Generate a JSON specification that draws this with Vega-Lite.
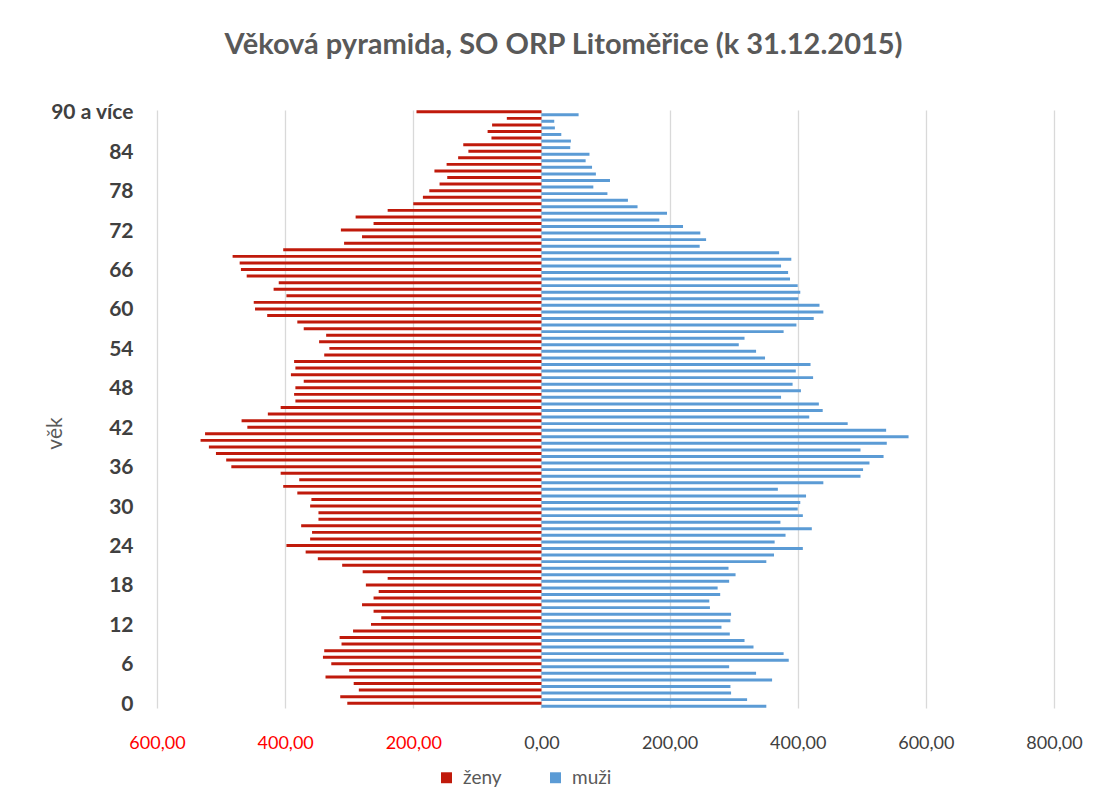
{
  "$schema": "https://vega.github.io/schema/vega-lite/v6.json",
  "autosize": {"type": "none"},
  "padding": {"left": 157, "top": 110, "right": 52, "bottom": 101},
  "width": 897,
  "height": 598,
  "background": "#ffffff",
  "title": {
    "text": "Věková pyramida, SO ORP Litoměřice (k 31.12.2015)",
    "font": "Lato",
    "fontSize": 29,
    "fontWeight": "bold",
    "color": "#595959",
    "anchor": "middle",
    "dx": -42,
    "offset": 42
  },
  "config": {
    "view": {"stroke": null},
    "font": "Lato"
  },
  "data": {
    "values": [
      {"vek":90,"pohlavi":"ženy","pocet":-195},{"vek":90,"pohlavi":"muži","pocet":58},
      {"vek":89,"pohlavi":"ženy","pocet":-54},{"vek":89,"pohlavi":"muži","pocet":20},
      {"vek":88,"pohlavi":"ženy","pocet":-77},{"vek":88,"pohlavi":"muži","pocet":21},
      {"vek":87,"pohlavi":"ženy","pocet":-84},{"vek":87,"pohlavi":"muži","pocet":31},
      {"vek":86,"pohlavi":"ženy","pocet":-78},{"vek":86,"pohlavi":"muži","pocet":46},
      {"vek":85,"pohlavi":"ženy","pocet":-122},{"vek":85,"pohlavi":"muži","pocet":45},
      {"vek":84,"pohlavi":"ženy","pocet":-114},{"vek":84,"pohlavi":"muži","pocet":75},
      {"vek":83,"pohlavi":"ženy","pocet":-130},{"vek":83,"pohlavi":"muži","pocet":69},
      {"vek":82,"pohlavi":"ženy","pocet":-148},{"vek":82,"pohlavi":"muži","pocet":79},
      {"vek":81,"pohlavi":"ženy","pocet":-167},{"vek":81,"pohlavi":"muži","pocet":85},
      {"vek":80,"pohlavi":"ženy","pocet":-147},{"vek":80,"pohlavi":"muži","pocet":107},
      {"vek":79,"pohlavi":"ženy","pocet":-159},{"vek":79,"pohlavi":"muži","pocet":81},
      {"vek":78,"pohlavi":"ženy","pocet":-175},{"vek":78,"pohlavi":"muži","pocet":103},
      {"vek":77,"pohlavi":"ženy","pocet":-185},{"vek":77,"pohlavi":"muži","pocet":135},
      {"vek":76,"pohlavi":"ženy","pocet":-200},{"vek":76,"pohlavi":"muži","pocet":150},
      {"vek":75,"pohlavi":"ženy","pocet":-240},{"vek":75,"pohlavi":"muži","pocet":196},
      {"vek":74,"pohlavi":"ženy","pocet":-290},{"vek":74,"pohlavi":"muži","pocet":184},
      {"vek":73,"pohlavi":"ženy","pocet":-262},{"vek":73,"pohlavi":"muži","pocet":221},
      {"vek":72,"pohlavi":"ženy","pocet":-313},{"vek":72,"pohlavi":"muži","pocet":248},
      {"vek":71,"pohlavi":"ženy","pocet":-280},{"vek":71,"pohlavi":"muži","pocet":257},
      {"vek":70,"pohlavi":"ženy","pocet":-308},{"vek":70,"pohlavi":"muži","pocet":247},
      {"vek":69,"pohlavi":"ženy","pocet":-403},{"vek":69,"pohlavi":"muži","pocet":371},
      {"vek":68,"pohlavi":"ženy","pocet":-482},{"vek":68,"pohlavi":"muži","pocet":390},
      {"vek":67,"pohlavi":"ženy","pocet":-471},{"vek":67,"pohlavi":"muži","pocet":374},
      {"vek":66,"pohlavi":"ženy","pocet":-469},{"vek":66,"pohlavi":"muži","pocet":385},
      {"vek":65,"pohlavi":"ženy","pocet":-460},{"vek":65,"pohlavi":"muži","pocet":388},
      {"vek":64,"pohlavi":"ženy","pocet":-410},{"vek":64,"pohlavi":"muži","pocet":400},
      {"vek":63,"pohlavi":"ženy","pocet":-418},{"vek":63,"pohlavi":"muži","pocet":404},
      {"vek":62,"pohlavi":"ženy","pocet":-398},{"vek":62,"pohlavi":"muži","pocet":401},
      {"vek":61,"pohlavi":"ženy","pocet":-449},{"vek":61,"pohlavi":"muži","pocet":434},
      {"vek":60,"pohlavi":"ženy","pocet":-447},{"vek":60,"pohlavi":"muži","pocet":440},
      {"vek":59,"pohlavi":"ženy","pocet":-428},{"vek":59,"pohlavi":"muži","pocet":425},
      {"vek":58,"pohlavi":"ženy","pocet":-381},{"vek":58,"pohlavi":"muži","pocet":398},
      {"vek":57,"pohlavi":"ženy","pocet":-371},{"vek":57,"pohlavi":"muži","pocet":378},
      {"vek":56,"pohlavi":"ženy","pocet":-336},{"vek":56,"pohlavi":"muži","pocet":317},
      {"vek":55,"pohlavi":"ženy","pocet":-347},{"vek":55,"pohlavi":"muži","pocet":308},
      {"vek":54,"pohlavi":"ženy","pocet":-331},{"vek":54,"pohlavi":"muži","pocet":335},
      {"vek":53,"pohlavi":"ženy","pocet":-339},{"vek":53,"pohlavi":"muži","pocet":349},
      {"vek":52,"pohlavi":"ženy","pocet":-386},{"vek":52,"pohlavi":"muži","pocet":420},
      {"vek":51,"pohlavi":"ženy","pocet":-384},{"vek":51,"pohlavi":"muži","pocet":397},
      {"vek":50,"pohlavi":"ženy","pocet":-391},{"vek":50,"pohlavi":"muži","pocet":424},
      {"vek":49,"pohlavi":"ženy","pocet":-371},{"vek":49,"pohlavi":"muži","pocet":392},
      {"vek":48,"pohlavi":"ženy","pocet":-384},{"vek":48,"pohlavi":"muži","pocet":405},
      {"vek":47,"pohlavi":"ženy","pocet":-386},{"vek":47,"pohlavi":"muži","pocet":374},
      {"vek":46,"pohlavi":"ženy","pocet":-384},{"vek":46,"pohlavi":"muži","pocet":433},
      {"vek":45,"pohlavi":"ženy","pocet":-407},{"vek":45,"pohlavi":"muži","pocet":439},
      {"vek":44,"pohlavi":"ženy","pocet":-427},{"vek":44,"pohlavi":"muži","pocet":418},
      {"vek":43,"pohlavi":"ženy","pocet":-468},{"vek":43,"pohlavi":"muži","pocet":478},
      {"vek":42,"pohlavi":"ženy","pocet":-459},{"vek":42,"pohlavi":"muži","pocet":538},
      {"vek":41,"pohlavi":"ženy","pocet":-525},{"vek":41,"pohlavi":"muži","pocet":573},
      {"vek":40,"pohlavi":"ženy","pocet":-532},{"vek":40,"pohlavi":"muži","pocet":539},
      {"vek":39,"pohlavi":"ženy","pocet":-519},{"vek":39,"pohlavi":"muži","pocet":498},
      {"vek":38,"pohlavi":"ženy","pocet":-508},{"vek":38,"pohlavi":"muži","pocet":534},
      {"vek":37,"pohlavi":"ženy","pocet":-492},{"vek":37,"pohlavi":"muži","pocet":512},
      {"vek":36,"pohlavi":"ženy","pocet":-484},{"vek":36,"pohlavi":"muži","pocet":502},
      {"vek":35,"pohlavi":"ženy","pocet":-407},{"vek":35,"pohlavi":"muži","pocet":498},
      {"vek":34,"pohlavi":"ženy","pocet":-378},{"vek":34,"pohlavi":"muži","pocet":440},
      {"vek":33,"pohlavi":"ženy","pocet":-403},{"vek":33,"pohlavi":"muži","pocet":369},
      {"vek":32,"pohlavi":"ženy","pocet":-381},{"vek":32,"pohlavi":"muži","pocet":413},
      {"vek":31,"pohlavi":"ženy","pocet":-359},{"vek":31,"pohlavi":"muži","pocet":404},
      {"vek":30,"pohlavi":"ženy","pocet":-361},{"vek":30,"pohlavi":"muži","pocet":400},
      {"vek":29,"pohlavi":"ženy","pocet":-348},{"vek":29,"pohlavi":"muži","pocet":408},
      {"vek":28,"pohlavi":"ženy","pocet":-348},{"vek":28,"pohlavi":"muži","pocet":373},
      {"vek":27,"pohlavi":"ženy","pocet":-375},{"vek":27,"pohlavi":"muži","pocet":422},
      {"vek":26,"pohlavi":"ženy","pocet":-358},{"vek":26,"pohlavi":"muži","pocet":381},
      {"vek":25,"pohlavi":"ženy","pocet":-361},{"vek":25,"pohlavi":"muži","pocet":364},
      {"vek":24,"pohlavi":"ženy","pocet":-398},{"vek":24,"pohlavi":"muži","pocet":408},
      {"vek":23,"pohlavi":"ženy","pocet":-368},{"vek":23,"pohlavi":"muži","pocet":363},
      {"vek":22,"pohlavi":"ženy","pocet":-349},{"vek":22,"pohlavi":"muži","pocet":351},
      {"vek":21,"pohlavi":"ženy","pocet":-311},{"vek":21,"pohlavi":"muži","pocet":292},
      {"vek":20,"pohlavi":"ženy","pocet":-279},{"vek":20,"pohlavi":"muži","pocet":303},
      {"vek":19,"pohlavi":"ženy","pocet":-240},{"vek":19,"pohlavi":"muži","pocet":293},
      {"vek":18,"pohlavi":"ženy","pocet":-274},{"vek":18,"pohlavi":"muži","pocet":275},
      {"vek":17,"pohlavi":"ženy","pocet":-254},{"vek":17,"pohlavi":"muži","pocet":279},
      {"vek":16,"pohlavi":"ženy","pocet":-262},{"vek":16,"pohlavi":"muži","pocet":262},
      {"vek":15,"pohlavi":"ženy","pocet":-280},{"vek":15,"pohlavi":"muži","pocet":263},
      {"vek":14,"pohlavi":"ženy","pocet":-262},{"vek":14,"pohlavi":"muži","pocet":296},
      {"vek":13,"pohlavi":"ženy","pocet":-250},{"vek":13,"pohlavi":"muži","pocet":295},
      {"vek":12,"pohlavi":"ženy","pocet":-266},{"vek":12,"pohlavi":"muži","pocet":281},
      {"vek":11,"pohlavi":"ženy","pocet":-294},{"vek":11,"pohlavi":"muži","pocet":294},
      {"vek":10,"pohlavi":"ženy","pocet":-315},{"vek":10,"pohlavi":"muži","pocet":317},
      {"vek":9,"pohlavi":"ženy","pocet":-312},{"vek":9,"pohlavi":"muži","pocet":331},
      {"vek":8,"pohlavi":"ženy","pocet":-339},{"vek":8,"pohlavi":"muži","pocet":378},
      {"vek":7,"pohlavi":"ženy","pocet":-341},{"vek":7,"pohlavi":"muži","pocet":386},
      {"vek":6,"pohlavi":"ženy","pocet":-328},{"vek":6,"pohlavi":"muži","pocet":293},
      {"vek":5,"pohlavi":"ženy","pocet":-300},{"vek":5,"pohlavi":"muži","pocet":335},
      {"vek":4,"pohlavi":"ženy","pocet":-337},{"vek":4,"pohlavi":"muži","pocet":360},
      {"vek":3,"pohlavi":"ženy","pocet":-293},{"vek":3,"pohlavi":"muži","pocet":295},
      {"vek":2,"pohlavi":"ženy","pocet":-285},{"vek":2,"pohlavi":"muži","pocet":296},
      {"vek":1,"pohlavi":"ženy","pocet":-314},{"vek":1,"pohlavi":"muži","pocet":321},
      {"vek":0,"pohlavi":"ženy","pocet":-303},{"vek":0,"pohlavi":"muži","pocet":351}
    ]
  },
  "mark": {"type": "bar"},
  "encoding": {
    "y": {
      "field": "vek",
      "type": "ordinal",
      "sort": "descending",
      "scale": {"paddingInner": 0.1, "paddingOuter": 0.05},
      "axis": {
        "title": "věk",
        "titleFont": "Lato",
        "titleFontSize": 21,
        "titleFontWeight": "normal",
        "titleColor": "#595959",
        "titleX": -102,
        "titleY": 323,
        "titleAngle": -90,
        "titleAlign": "center",
        "titleBaseline": "middle",
        "values": [0,6,12,18,24,30,36,42,48,54,60,66,72,78,84,90],
        "labelExpr": "datum.value == 90 ? '90 a více' : datum.label",
        "labelFont": "Lato",
        "labelFontSize": 21,
        "labelFontWeight": "bold",
        "labelColor": "#404040",
        "labelPadding": 24,
        "labelOverlap": false,
        "ticks": false,
        "tickSize": 0,
        "domain": false,
        "grid": false
      }
    },
    "yOffset": {
      "field": "pohlavi",
      "type": "nominal",
      "sort": ["ženy", "muži"],
      "scale": {"paddingInner": 0, "paddingOuter": 0}
    },
    "x": {
      "field": "pocet",
      "type": "quantitative",
      "scale": {"domain": [-600, 800], "nice": false, "zero": false},
      "axis": {
        "title": null,
        "values": [-600,-400,-200,0,200,400,600,800],
        "labelExpr": "replace(format(abs(datum.value), '.2f'), '.', ',')",
        "labelFont": "Lato",
        "labelFontSize": 18,
        "labelFlush": false,
        "labelColor": {"condition": {"test": "datum.value < 0", "value": "#FF0000"}, "value": "#404040"},
        "labelPadding": 26,
        "ticks": false,
        "tickSize": 0,
        "domain": false,
        "grid": true,
        "gridColor": "#d9d9d9",
        "gridWidth": 1.3
      }
    },
    "color": {
      "field": "pohlavi",
      "type": "nominal",
      "scale": {"domain": ["ženy", "muži"], "range": ["#C01A0B", "#5B9BD5"]},
      "legend": {
        "title": null,
        "orient": "none",
        "direction": "horizontal",
        "legendX": 280,
        "legendY": 658,
        "symbolType": "square",
        "symbolSize": 120,
        "symbolStrokeWidth": 0,
        "labelFont": "Lato",
        "labelFontSize": 19,
        "labelColor": "#595959",
        "labelOffset": 7,
        "columnPadding": 44
      }
    }
  }
}
